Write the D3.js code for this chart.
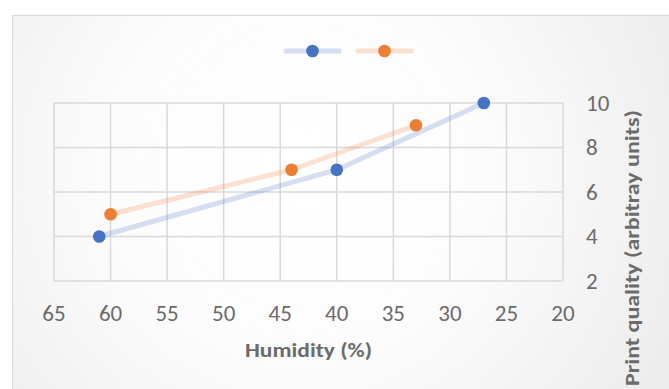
<!DOCTYPE html>
<html><head><meta charset="utf-8">
<script src="https://cdn.jsdelivr.net/npm/d3@7"></script>
<style>html,body{margin:0;padding:0;background:#fff;}svg{display:block;}</style>
</head><body>
<script>
const xTicks = [65, 60, 55, 50, 45, 40, 35, 30, 25, 20];
const yTicks = [2, 4, 6, 8, 10];
const seriesNames = ["Series1", "Series2"];
const blueHumidity = [61, 40, 27];
const blueQuality = [4, 7, 10];
const orangeHumidity = [60, 44, 33];
const orangeQuality = [5, 7, 9];
const colors = ["#4472c4", "#ed7d31"];
const xTitle = "Humidity (%)";
const yTitle = "Print quality (arbitray units)";

const W = 669, H = 389;
const svg = d3.select("body").append("svg").attr("width", W).attr("height", H);
const defs = svg.append("defs");
const grad = defs.append("radialGradient").attr("id", "bg")
  .attr("gradientUnits", "userSpaceOnUse").attr("cx", 300).attr("cy", 170).attr("r", 420);
grad.append("stop").attr("offset", "0%").attr("stop-color", "#ffffff");
grad.append("stop").attr("offset", "45%").attr("stop-color", "#fcfcfc");
grad.append("stop").attr("offset", "100%").attr("stop-color", "#ececec");

svg.append("rect").attr("x", 12.5).attr("y", 15.5).attr("width", W).attr("height", H)
  .attr("fill", "url(#bg)").attr("stroke", "#d9d9d9").attr("stroke-width", 1);

const L = 54, R = 563, T = 103, B = 281;
const x = d3.scaleLinear().domain([65, 20]).range([L, R]);
const y = d3.scaleLinear().domain([2, 10]).range([B, T]);

const grid = svg.append("g");
grid.selectAll("line.v").data(xTicks).join("line")
  .attr("x1", d => x(d)).attr("x2", d => x(d)).attr("y1", T).attr("y2", B)
  .attr("stroke", "#d9d9d9").attr("stroke-width", 1.5);
grid.selectAll("line.h").data(yTicks).join("line")
  .attr("y1", d => y(d)).attr("y2", d => y(d)).attr("x1", L).attr("x2", R)
  .attr("stroke", "#d9d9d9").attr("stroke-width", 1.5);

const font = "Carlito, Calibri, Lato, 'Liberation Sans', Arial, sans-serif";
svg.append("g").selectAll("text").data(xTicks).join("text")
  .attr("x", d => x(d)).attr("y", 321).attr("text-anchor", "middle")
  .attr("font-family", font).attr("font-size", 23).attr("fill", "#6b6b6b")
  .text(d => d);
svg.append("g").selectAll("text").data(yTicks).join("text")
  .attr("x", 586).attr("y", d => y(d) + 7.5).attr("text-anchor", "start")
  .attr("font-family", font).attr("font-size", 23).attr("fill", "#6b6b6b")
  .text(d => d);

svg.append("text").attr("x", (L + R) / 2).attr("y", 357).attr("text-anchor", "middle")
  .attr("font-family", font).attr("font-size", 21).attr("font-weight", "bold").attr("fill", "#6b6b6b")
  .attr("textLength", 127).attr("lengthAdjust", "spacingAndGlyphs")
  .text(xTitle);
svg.append("text").attr("transform", "translate(639,248) rotate(-90)").attr("text-anchor", "middle")
  .attr("font-family", font).attr("font-size", 21).attr("font-weight", "bold").attr("fill", "#6b6b6b")
  .attr("textLength", 276).attr("lengthAdjust", "spacingAndGlyphs")
  .text(yTitle);

const series = [
  {name: seriesNames[0], xs: blueHumidity, ys: blueQuality, color: colors[0]},
  {name: seriesNames[1], xs: orangeHumidity, ys: orangeQuality, color: colors[1]}
];
const line = d3.line().x(d => x(d[0])).y(d => y(d[1]));
series.forEach(s => {
  const pts = s.xs.map((v, i) => [v, s.ys[i]]);
  svg.append("path").attr("d", line(pts)).attr("fill", "none")
    .attr("stroke", s.color).attr("stroke-opacity", 0.22).attr("stroke-width", 5)
    .attr("stroke-linecap", "round").attr("stroke-linejoin", "round");
});
series.forEach(s => {
  const pts = s.xs.map((v, i) => [v, s.ys[i]]);
  svg.append("g").selectAll("circle").data(pts).join("circle")
    .attr("cx", d => x(d[0])).attr("cy", d => y(d[1])).attr("r", 6.3)
    .attr("fill", s.color);
});

// legend
const legX = [284, 356];
series.forEach((s, i) => {
  const g = svg.append("g");
  g.append("line").attr("x1", legX[i] + 2).attr("x2", legX[i] + 55).attr("y1", 51).attr("y2", 51)
    .attr("stroke", s.color).attr("stroke-opacity", 0.22).attr("stroke-width", 5).attr("stroke-linecap", "round");
  g.append("circle").attr("cx", legX[i] + 28.5).attr("cy", 51).attr("r", 6.3).attr("fill", s.color);
});
</script>
</body></html>
